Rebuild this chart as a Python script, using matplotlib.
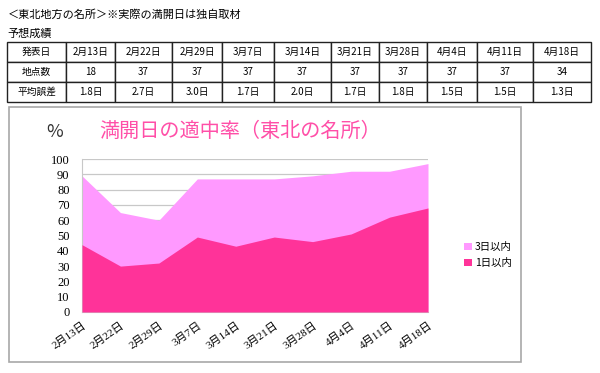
import matplotlib.pyplot as plt
from matplotlib.patches import Rectangle

plt.rcParams['font.family'] = ['Noto Sans CJK JP', 'DejaVu Sans']

# table data
head = ['発表日', '2月13日', '2月22日', '2月29日', '3月7日', '3月14日',
        '3月21日', '3月28日', '4月4日', '4月11日', '4月18日']
points = ['地点数', '18', '37', '37', '37', '37', '37', '37', '37', '37', '34']
errors = ['平均誤差', '1.8日', '2.7日', '3.0日', '1.7日', '2.0日',
          '1.7日', '1.8日', '1.5日', '1.5日', '1.3日']

# chart data
dates = head[1:]
within3 = [89, 65, 60, 87, 87, 87, 89, 92, 92, 97]
within1 = [44, 30, 32, 49, 43, 49, 46, 51, 62, 68]

pink_light = '#FF99FF'
pink_dark = '#FF3399'

fig = plt.figure(figsize=(6, 3.73), dpi=100)

fig.text(0.013, 0.962, '＜東北地方の名所＞※実際の満開日は独自取材', fontsize=8, va='center')
fig.text(0.013, 0.91, '予想成績', fontsize=8, va='center')

# table
tax = fig.add_axes([7 / 600, 1 - 102 / 373, 584 / 600, 60 / 373])
tax.axis('off')
widths = [59, 49, 57, 50, 52, 57, 48, 48, 50, 56, 58]
tot = sum(widths)
tbl = tax.table(cellText=[head, points, errors], colWidths=[w / tot for w in widths],
                cellLoc='center', bbox=[0, 0, 1, 1])
tbl.auto_set_font_size(False)
for (r, c), cell in tbl.get_celld().items():
    cell.set_linewidth(1.0)
    cell.set_edgecolor('#222222')
    cell.get_text().set_fontsize(7)

# chart frame
fig.add_artist(Rectangle((9 / 600, 1 - 362 / 373), 512 / 600, 255 / 373,
                         transform=fig.transFigure, fill=False,
                         edgecolor='#A8A8A8', linewidth=1.2))

ax = fig.add_axes([82 / 600, 1 - 312 / 373, 346 / 600, 153 / 373])
x = list(range(len(dates)))
ax.fill_between(x, 0, within3, color=pink_light, linewidth=0, label='3日以内', zorder=2)
ax.fill_between(x, 0, within1, color=pink_dark, linewidth=0, label='1日以内', zorder=3)

ax.set_xlim(0, len(dates) - 1)
ax.set_ylim(0, 100)
ax.set_yticks(range(0, 101, 10))
ax.yaxis.grid(True, color='#C8C8C8', linewidth=0.9, zorder=1)
ax.set_axisbelow(True)
for s in ['top', 'right']:
    ax.spines[s].set_visible(False)
ax.spines['left'].set_color('#C8C8C8')
ax.spines['bottom'].set_color('#C8C8C8')
ax.tick_params(axis='y', length=0, pad=9)
ax.tick_params(axis='x', length=0, pad=6)
ax.set_xticks(x)
ax.set_xticklabels(dates, rotation=35, ha='right', rotation_mode='anchor',
                   fontsize=8, family=['Liberation Serif', 'Noto Sans CJK JP'])
for lb in ax.get_yticklabels():
    lb.set_family('Liberation Serif')
    lb.set_fontsize(9)

fig.text(55 / 600, 1 - 132 / 373, '%', fontsize=13, ha='center', va='center', color='#333333')
fig.text(240 / 600, 1 - 131 / 373, '満開日の適中率（東北の名所）', fontsize=14.5,
         ha='center', va='center', color='#FF4FA8')

h, l = ax.get_legend_handles_labels()
fig.legend(h, l, loc='center left', bbox_to_anchor=(455 / 600, 1 - 255 / 373),
           frameon=False, fontsize=7.5, handlelength=0.7, handleheight=0.7,
           handletextpad=0.3, labelspacing=0.6)

fig.savefig('out.png', dpi=100)
